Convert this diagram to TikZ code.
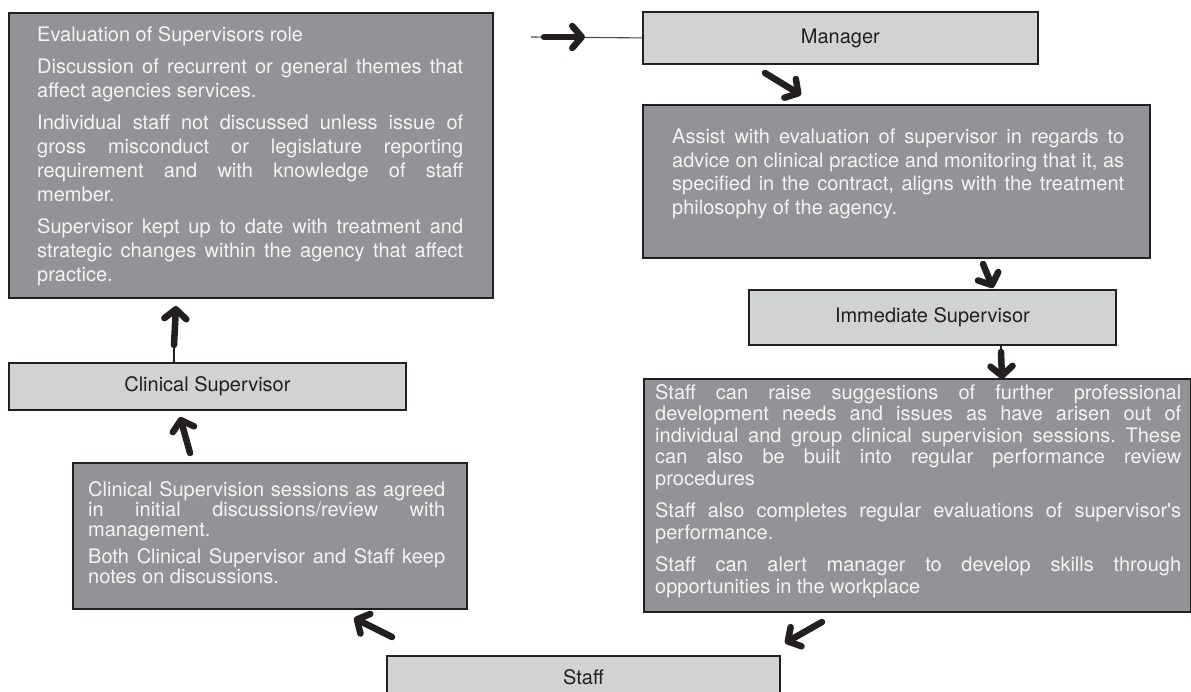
\documentclass[tikz,border=0pt]{standalone}
\usepackage{fontspec}
\setmainfont{TeX Gyre Heros}
\usetikzlibrary{arrows.meta}
\definecolor{darkfill}{HTML}{929397}
\definecolor{lightfill}{HTML}{D1D2D4}
\definecolor{boxline}{HTML}{231F20}
\definecolor{paletext}{HTML}{F4F4F5}
\definecolor{inktext}{HTML}{231F20}
\definecolor{arrowink}{HTML}{231F20}
\definecolor{tailink}{HTML}{4A4A4C}
\newcommand\bodysetup[2]{\fontsize{20}{#1}\selectfont\parindent=0pt\parskip=#2\relax
  \frenchspacing\tolerance=10000\hbadness=10000\hyphenpenalty=10000\exhyphenpenalty=10000\relax}
\tikzset{
  darkbox/.style={draw=boxline, line width=1.8pt, fill=darkfill, inner sep=0pt, anchor=north west},
  lightbox/.style={draw=boxline, line width=1.8pt, fill=lightfill, inner sep=0pt, anchor=north west,
    text=inktext, font=\fontsize{20}{24}\selectfont},
  bodytext/.style={anchor=north west, inner sep=0pt, text=paletext, align=justify},
  bigarrow/.style={draw=arrowink, line width=6.5pt, line cap=round,
    -{Straight Barb[length=9.5pt,width=22pt,round]}},
  thinlink/.style={draw=arrowink, line width=1.3pt},
  faintlink/.style={draw=tailink, line width=1.1pt},
}
\begin{document}
\begin{tikzpicture}[x=1pt,y=-1pt]
\useasboundingbox (0,0) rectangle (1191,691);
\clip (0,0) rectangle (1191,691);

% ---- boxes ----
\node[darkbox, minimum width=484pt, minimum height=285pt] (eval) at (8,12) {};
\node[lightbox, minimum width=395pt, minimum height=52pt] (mgr) at (642,11) {Manager};
\node[darkbox, minimum width=507pt, minimum height=153pt] (assist) at (642,104) {};
\node[lightbox, minimum width=367pt, minimum height=55pt] (imm) at (748,289) {Immediate Supervisor};
\node[darkbox, minimum width=547pt, minimum height=233pt] (staffnotes) at (643,378) {};
\node[lightbox, minimum width=397pt, minimum height=47pt] (clin) at (8,362) {Clinical Supervisor};
\node[darkbox, minimum width=394pt, minimum height=146pt] (sessions) at (72,462) {};
\node[lightbox, minimum width=393pt, minimum height=43pt] (staff) at (386,655) {Staff};

% ---- texts ----
\node[bodytext, text width=426pt, font={\bodysetup{24pt}{8pt}}] (evaltext) at (37,26.5) {%
Evaluation of Supervisors role\par
Discussion of recurrent or general themes that\linebreak affect agencies services.\par
Individual staff not discussed unless issue of\linebreak gross misconduct or legislature reporting\linebreak requirement and with knowledge of staff\linebreak member.\par
Supervisor kept up to date with treatment and\linebreak strategic changes within the agency that affect\linebreak practice.};

\node[bodytext, text width=452pt, font={\bodysetup{23.7pt}{0pt}}] (assisttext) at (672,128.5) {%
Assist with evaluation of supervisor in regards to\linebreak advice on clinical practice and monitoring that it, as\linebreak specified in the contract, aligns with the treatment\linebreak philosophy of the agency.};

\node[bodytext, text width=526pt, font={\bodysetup{21.5pt}{11pt}}] (staffnotestext) at (655,384) {%
Staff can raise suggestions of further professional\linebreak development needs and issues as have arisen out of\linebreak individual and group clinical supervision sessions. These\linebreak can also be built into regular performance review\linebreak procedures\par
Staff also completes regular evaluations of supervisor\textquotesingle s\linebreak performance.\par
Staff can alert manager to develop skills through\linebreak opportunities in the workplace};

\node[bodytext, text width=357pt, font={\bodysetup{20pt}{7.5pt}}] (sessionstext) at (88,481) {%
Clinical Supervision sessions as agreed\linebreak in initial discussions/review with\linebreak management.\par
Both Clinical Supervisor and Staff keep\linebreak notes on discussions.};

% ---- arrow end points ----
\coordinate (a0start) at (531,37);
\coordinate (a0tail) at (544,37);
\coordinate (a0tip) at (585,37);
\coordinate (a1tail) at (765,73);
\coordinate (a1tip) at (801,95);
\coordinate (a2tail) at (983,264);
\coordinate (a2tip) at (993,288);
\coordinate (a3tail) at (1001,352);
\coordinate (a3tip) at (1002,379);
\coordinate (a4tail) at (822,622);
\coordinate (a4tip) at (785,643);
\coordinate (a5tail) at (392,637);
\coordinate (a5tip) at (354,618);
\coordinate (a6tail) at (190,453);
\coordinate (a6tip) at (180,417);
\coordinate (a7tail) at (174,345);
\coordinate (a7tip) at (176,306);

% ---- connectors ----
\draw[faintlink] (a0start) -- (mgr.west);
\draw[bigarrow] (a0tail) -- (a0tip);
\draw[bigarrow] (a1tail) -- (a1tip);
\draw[bigarrow] (a2tail) -- (a2tip);
\draw[thinlink] (imm.south -| a3tail) -- (a3tail);
\draw[bigarrow] (a3tail) -- (a3tip);
\draw[bigarrow] (a4tail) -- (a4tip);
\draw[bigarrow] (a5tail) -- (a5tip);
\draw[bigarrow] (a6tail) -- (a6tip);
\draw[thinlink] (clin.north -| a7tail) -- (a7tail);
\draw[bigarrow] (a7tail) -- (a7tip);
\end{tikzpicture}
\end{document}
